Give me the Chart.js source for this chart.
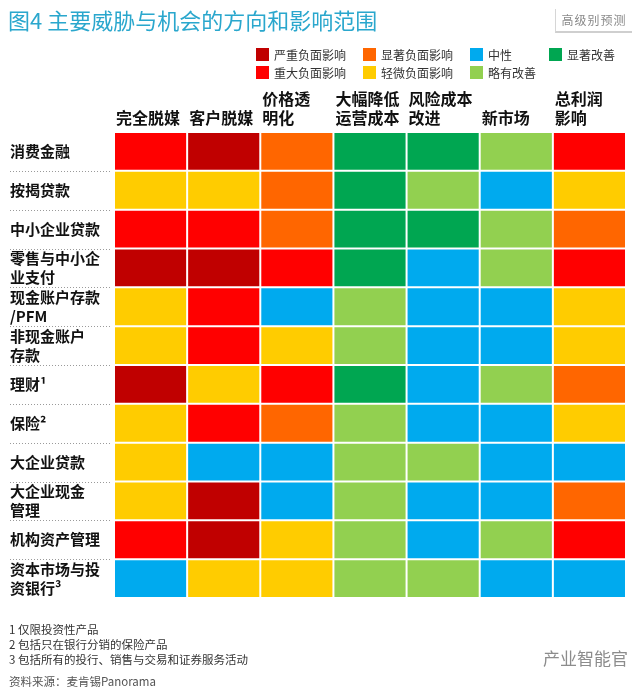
<!DOCTYPE html>
<html>
<head>
<meta charset="utf-8">
<script src="https://cdn.jsdelivr.net/npm/chart.js@4.4.0/dist/chart.umd.min.js"></script>
<style>
  html, body { margin: 0; padding: 0; background: #fff; }
  body { width: 640px; height: 694px; position: relative; overflow: hidden;
         font-family: 'Noto Sans CJK SC', sans-serif; color: #222; }
  #chart { position: absolute; left: 0; top: 0; }
  .title { position: absolute; left: 8px; top: 3px; font-size: 22px; color: #2aa7cd; white-space: nowrap; }
  .badge { position: absolute; left: 555px; top: 9px; width: 76px; height: 22px; line-height: 22px;
           text-align: center; font-size: 12px; color: #8a8a8a; letter-spacing: 1px;
           border-left: 1px solid #d6d6d6; border-bottom: 2px solid #cfcfcf; }
  #legend { position: absolute; left: 256px; top: 45px; display: grid; grid-auto-flow: column;
            grid-template-rows: 18px 18px; grid-template-columns: 107px 107px 79px auto; }
  #legend .item { display: flex; align-items: center; font-size: 12px; color: #333; white-space: nowrap; }
  #legend .sw { width: 13px; height: 13px; margin-right: 5px; }
  .notes { position: absolute; left: 9px; top: 622px; font-size: 11.5px; line-height: 15px; color: #333; }
  .source { position: absolute; left: 9px; top: 673px; font-size: 11.5px; color: #555; }
  .mark { position: absolute; left: 543px; top: 645px; font-size: 17px; color: #8c8c8c; }
</style>
</head>
<body>
<canvas id="chart" width="640" height="694"></canvas>
<div class="title">图4 主要威胁与机会的方向和影响范围</div>
<div class="badge">高级别预测</div>
<div id="legend"></div>
<div class="notes">1 仅限投资性产品<br>2 包括只在银行分销的保险产品<br>3 包括所有的投行、销售与交易和证券服务活动</div>
<div class="source">资料来源：麦肯锡Panorama</div>
<div class="mark">产业智能官</div>
<script>
// impact categories, legend order (column-major, 2 rows)
const impactKeys   = ['S', 'R', 'O', 'Y', 'B', 'L', 'G'];
const impactNames  = ['严重负面影响', '重大负面影响', '显著负面影响', '轻微负面影响', '中性', '略有改善', '显著改善'];
const impactColors = ['#c00000', '#ff0000', '#ff6600', '#ffcc00', '#00aaee', '#92d050', '#00a651'];

// rows (business lines)
const rowLabels = [
  '消费金融', '按揭贷款', '中小企业贷款', ['零售与中小企', '业支付'],
  ['现金账户存款', '/PFM'], ['非现金账户', '存款'], '理财¹', '保险²',
  '大企业贷款', ['大企业现金', '管理'], '机构资产管理', ['资本市场与投', '资银行³']
];

// columns (threats / opportunities)
const columnLabels = [
  ['完全脱媒'], ['客户脱媒'], ['价格透', '明化'], ['大幅降低', '运营成本'],
  ['风险成本', '改进'], ['新市场'], ['总利润', '影响']
];

// impact per column, one entry per row
const fullDisintermediation     = ['R', 'Y', 'R', 'S', 'Y', 'Y', 'S', 'Y', 'Y', 'Y', 'R', 'B'];
const customerDisintermediation = ['S', 'Y', 'R', 'S', 'R', 'R', 'Y', 'R', 'B', 'S', 'S', 'Y'];
const priceTransparency         = ['O', 'O', 'O', 'R', 'B', 'Y', 'R', 'O', 'B', 'B', 'Y', 'Y'];
const costReduction             = ['G', 'G', 'G', 'G', 'L', 'L', 'G', 'L', 'L', 'L', 'L', 'L'];
const riskCost                  = ['G', 'L', 'G', 'B', 'B', 'B', 'B', 'B', 'L', 'B', 'B', 'L'];
const newMarkets                = ['L', 'B', 'L', 'L', 'B', 'B', 'L', 'B', 'B', 'B', 'L', 'B'];
const profitImpact              = ['R', 'Y', 'O', 'R', 'Y', 'Y', 'O', 'Y', 'B', 'O', 'R', 'B'];

const columns = [fullDisintermediation, customerDisintermediation, priceTransparency,
                 costReduction, riskCost, newMarkets, profitImpact];

const colorOf = k => impactColors[impactKeys.indexOf(k)];

// legend
const legendEl = document.getElementById('legend');
impactKeys.forEach((k, i) => {
  const item = document.createElement('div');
  item.className = 'item';
  item.innerHTML = `<span class="sw" style="background:${impactColors[i]}"></span>${impactNames[i]}`;
  legendEl.appendChild(item);
});

const cjk = "'Noto Sans CJK SC', sans-serif";

// column headers above the grid + dotted separators beside row labels
const tablePlugin = {
  id: 'table',
  afterDraw(chart) {
    const { ctx, chartArea, scales: { x, y } } = chart;
    ctx.save();
    ctx.fillStyle = '#111';
    ctx.font = `bold 16px ${cjk}`;
    ctx.textAlign = 'left';
    ctx.textBaseline = 'middle';
    columnLabels.forEach((lines, i) => {
      const left = x.getPixelForValue(i) + 2;
      lines.forEach((t, j) => {
        const yy = chartArea.top - 14 - (lines.length - 1 - j) * 19;
        ctx.fillText(t, left, yy);
      });
    });
    ctx.strokeStyle = '#9a9a9a';
    ctx.lineWidth = 1;
    ctx.setLineDash([1, 2]);
    for (let i = 1; i < rowLabels.length; i++) {
      const yy = Math.round((y.getPixelForValue(i - 1) + y.getPixelForValue(i)) / 2) + 0.5;
      ctx.beginPath();
      ctx.moveTo(10, yy);
      ctx.lineTo(chartArea.left - 2, yy);
      ctx.stroke();
    }
    ctx.restore();
  }
};

new Chart(document.getElementById('chart'), {
  type: 'bar',
  data: {
    labels: rowLabels,
    datasets: columns.map((col, i) => ({
      label: columnLabels[i].join(''),
      data: col.map(() => 1),
      backgroundColor: col.map(colorOf),
      borderColor: '#ffffff',
      borderWidth: 1,
      borderSkipped: false,
      inflateAmount: 0,
      barPercentage: 1,
      categoryPercentage: 1
    }))
  },
  options: {
    indexAxis: 'y',
    responsive: false,
    animation: false,
    layout: { padding: { left: 10, top: 132, right: 14, bottom: 96 } },
    plugins: { legend: { display: false }, tooltip: { enabled: false } },
    scales: {
      x: { type: 'linear', stacked: true, min: 0, max: 7, display: false },
      y: {
        stacked: true,
        grid: { display: false },
        border: { display: false },
        ticks: {
          autoSkip: false,
          crossAlign: 'far',
          color: '#111',
          font: { family: cjk, size: 15, weight: 'bold', lineHeight: 1.3 }
        },
        afterFit: s => { s.width = 104; }
      }
    }
  },
  plugins: [tablePlugin]
});
</script>
</body>
</html>
